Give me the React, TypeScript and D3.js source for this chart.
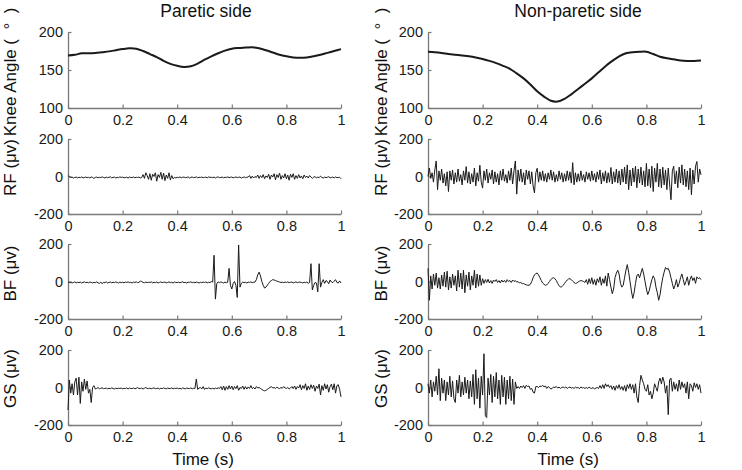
import React, { useRef, useEffect } from 'react';
import * as d3 from 'd3';

// titles / labels
const columnTitles = ['Paretic side', 'Non-paretic side'];
const rowLabels = ['Knee Angle (  °  )', 'RF (μv)', 'BF (μv)', 'GS (μv)'];
const xLabel = 'Time (s)';
const xTicks = [0, 0.2, 0.4, 0.6, 0.8, 1];
const xTickLabels = ['0', '0.2', '0.4', '0.6', '0.8', '1'];
const kneeTicks = [100, 150, 200];
const emgTicks = [-200, 0, 200];

// knee angle (deg), sampled every 0.025 s
const kneeParetic = [169, 170, 172, 172, 172.5, 173.5, 174.5, 176, 177.5, 178.5, 178, 175, 171, 167, 162, 158, 155.5, 154, 155, 158.5,
  163.5, 168, 172, 175.5, 178, 179, 179.5, 180, 178.5, 176, 173, 170, 168, 166.5, 166, 166.5, 168, 170, 172.5, 175, 177.5];
const kneeNonParetic = [174, 173.5, 172.5, 171, 170, 169, 168, 166.5, 164.5, 162, 159, 155.5, 151.5, 145.5, 139, 131, 122, 115, 109.5, 108.5,
  112, 118, 125, 132, 139, 147, 155, 162, 168, 172, 173.5, 174, 174, 171, 167.5, 165.5, 164, 162.5, 162, 162, 162.5];

// EMG (µV), sampled every 0.005 s
const rfParetic = [
  5, 0, -5, -3, -8, -5, -3, -7, -4, -6, -2, -8, -5, -3, -6, -4, -8, -2, -5, -10,
  -5, -3, -7, -4, -6, -2, -5, -8, -3, -6, -4, -2, -7, -5, -3, -8, -4, -6, -2, -5,
  -3, -7, -5, -4, -8, -3, -5, -6, -2, -7, -4, -5, -3, -8, -5, 10, -10, 20, 5, -15,
  15, -20, 12, 0, 20, -25, 10, -5, 22, -15, 18, -22, 8, -10, 20, -18, 5, -12, -5, -8,
  -4, -6, -2, -7, -4, -3, -6, -5, -2, -8, -4, -3, -6, -5, -2, -7, -4, -5, -3, -6,
  -5, -3, -7, -2, -5, -4, -6, -3, -8, -4, -2, -6, -5, -3, -7, -4, -5, -2, -6, -4,
  -3, -7, -5, -2, -6, -4, -3, -8, -5, -2, -6, -4, -3, 5, -10, 2, -8, 0, -5, 8,
  -10, 5, -6, 10, -12, 3, -5, 12, -15, 8, -3, 15, -18, 10, -5, 18, -15, 5, -8, 15,
  -12, 8, -20, 12, -5, 15, -15, 5, -10, 10, -8, 3, -12, 8, -5, 2, -8, 5, -3, -10,
  -4, 0, -8, -3, -6, 2, -5, -8, -3, -6, -4, -1, -7, -5, -3, -8, -2, -6, -5, -4,
  -12];
const rfNonParetic = [
  0, 45, -10, 20, -30, 35, 83, -70, 30, -20, 40, -35, 15, -50, 25, -80, 30, -20, 35, -40,
  20, -30, 40, -25, 10, -45, 30, -20, 53, -35, 25, -40, 15, -30, 45, -50, 20, -25, 60, -30,
  -62, 30, -20, 40, -35, 20, -15, 35, -40, 25, -30, 15, -45, 30, -20, 40, -25, 10, -35, 30,
  -20, 45, -40, 30, 83, -94, 35, -25, 40, -30, 20, -45, 35, -15, 30, -40, 25, -50, -88, 20,
  44, -30, 25, -20, 30, -25, 15, -30, 20, -15, 35, -20, 25, -30, 10, -25, 30, -15, 20, -30,
  15, -25, 30, -20, 25, -35, 74, -44, 20, -30, 15, -25, 30, -20, 10, -30, 25, -15, 20, -25,
  30, -20, 15, -30, 25, -15, 35, -40, 20, -25, 30, -35, 20, -30, 48, -40, 25, -30, 40, -35,
  30, -45, 40, -30, 50, -40, 62, -70, 35, -50, 45, -30, 55, -60, 40, -35, 50, -45, 30, -55,
  70, -50, 40, -60, 55, -80, 45, -30, 70, -55, 40, -60, 50, -45, 35, -70, 45, -40, -124, 30,
  55, -40, 30, -60, 50, -35, 62, -45, 40, -55, 30, -70, 45, -97, 35, -40, 55, 80, -30, 40,
  9];
const bfParetic = [
  -3, -6, -4, -8, -5, -2, -7, -4, -6, -3, -8, -5, -2, -6, -4, -7, -3, -5, -8, -4,
  -6, -2, -7, -10, -3, -12, -4, -6, -2, -8, -5, -3, -7, -4, -6, -2, -5, -8, -3, -6,
  -4, -7, -3, -5, -2, -6, -4, -8, -3, -5, -2, -6, -4, 2, 0, -5, -7, -3, -6, -4,
  -5, -2, -7, -4, -6, -3, -8, -5, -2, -6, -4, -3, -7, -5, -2, -6, -4, -8, -3, -5,
  -6, -3, -7, -4, -2, -6, -5, -8, -3, -5, -2, -6, -4, -7, -3, -5, -8, -4, -6, -3,
  -5, -2, -7, -4, -6, 0, -3, 140, -94, -10, -3, -6, -2, -5, -8, -3, -6, -4, 70, -20,
  -40, -10, 0, -20, -85, 195, -30, -10, -3, -6, -4, -8, -3, -5, -2, -6, -4, -3, 10, 35,
  50, 30, 0, -20, -35, -30, -20, -10, 0, 5, 10, 8, 5, 2, 0, -3, -5, -4, -6, -3,
  -5, -2, -6, -4, -3, -7, -5, -2, -6, -4, -3, -5, -8, -4, -6, -3, -10, -5, 95, -45,
  -20, -5, -8, -55, 95, -30, -5, 10, -10, 5, 0, -12, 8, -3, -6, 2, 10, -5, -8, 3,
  -8];
const bfNonParetic = [
  70, -100, 30, -40, 40, -20, 45, -35, 20, -40, 35, -25, 50, -30, 55, -45, 25, -35, 40, -20,
  30, -50, 60, -30, 45, -40, 60, -60, 35, -25, 50, -45, 30, -20, 60, -35, 40, -25, 35, -20,
  15, -10, 10, -5, 12, -8, 5, -10, 8, 0, 10, -5, 5, -8, 8, -3, 6, -5, 10, 0,
  5, -5, 8, 0, 5, -3, 0, -8, -5, -12, -10, -15, -18, -20, -20, -15, 0, 20, 35, 43,
  45, 35, 20, 5, -8, -15, -20, -18, -10, 0, 10, 18, 20, 15, 5, -10, -22, -30, -28, -20,
  -10, 0, 8, 14, 15, 10, 2, -5, -10, -8, -2, 2, 5, 3, 0, -5, 10, -15, 15, -10,
  20, -15, 10, -20, 15, -5, 25, -20, 15, -10, 30, -25, 45, 10, -30, -65, -40, 20, 45, 60,
  40, -10, -30, -20, 20, 60, 90, 50, 0, -50, -90, -60, -10, 30, 40, 20, 45, 70, 40, 0,
  -40, -70, -50, -20, 10, 30, 15, -30, -60, -100, -70, -20, 20, 50, 75, 65, 70, 50, 20, -10,
  -40, -20, 10, -30, -10, 20, 40, 10, -20, 0, 25, -20, 10, 30, 5, 20, -10, 25, 15, 20,
  10];
const gsParetic = [
  -120, 40, -30, 20, -40, 30, 50, -40, 55, -85, 30, -20, 45, -10, 35, -30, -10, -80, 0, 10,
  -8, -5, 0, -7, -4, -2, -6, -5, -3, -7, -4, -6, -2, -5, -8, -3, -6, -4, -5, -3,
  -7, -4, -6, -2, -8, -3, -5, -6, -2, -7, -4, 0, -6, -5, -3, -8, -4, 0, -5, -6,
  -3, -7, -4, -2, -6, -5, -3, -8, -4, -6, -2, -5, -7, -3, -5, -6, -2, -7, -4, -5,
  -3, -6, -4, -8, -2, -5, -7, -3, -5, -6, -2, -7, -4, -5, 45, -10, -3, 0, -8, 5,
  -10, -3, -6, -2, -5, -7, -4, -8, -3, -6, -2, -5, 5, -12, 8, -15, 5, -10, 10, -8,
  8, -12, 5, -6, 10, -15, 0, -5, 8, -10, 5, -8, 3, -5, 10, -6, 0, -8, 5, -3,
  0, -5, -10, -15, -18, -15, -10, -5, 0, 5, -3, 0, -5, 2, -3, -6, 0, -4, 5, -2,
  -5, 0, -7, -3, 5, -6, 8, -10, 5, -3, 15, -12, 10, -5, 20, -15, 8, -10, 15, -5,
  12, -20, 8, -5, 18, -40, 10, -15, 20, -8, 15, -25, 5, 18, -12, 20, -30, 10, 15, -10,
  -50];
const gsNonParetic = [
  20, -30, 40, -50, 30, -20, 60, -40, 100, -70, 50, -30, 40, -70, 30, -40, 60, -50, 35, -60,
  -80, 40, -30, 65, -50, 30, -40, 55, -30, 40, -60, 35, -50, 70, -90, 95, -60, 50, -110, 60,
  -40, 180, -150, -160, 50, -40, 70, -80, 60, -50, 80, -60, 40, -90, 65, -50, 55, -90, 40, -60,
  60, -70, 45, -90, 30, -5, 5, -5, 8, 0, 10, -5, 12, 5, 8, -10, -5, -25, -30, 5,
  5, 0, 8, 5, 12, 3, 8, -5, 5, 0, -8, -5, 3, 0, 5, -3, 2, -5, 0, 3,
  -2, 3, -5, 0, 2, -3, 0, -5, 2, -2, 0, -6, 3, -3, 0, -5, 0, -5, 2, -3,
  -5, 0, -8, -3, 0, -5, 10, -5, 15, -5, 20, 5, 15, 0, 10, -10, 8, -15, 10, -5,
  15, -10, 5, -15, 10, -20, 15, -5, 20, -10, 15, -30, 20, -50, -80, 10, 65, 40, 20, -10,
  -20, 15, -40, -20, -60, -30, 20, 0, -20, 30, 50, 20, 55, 30, -30, 10, -145, 40, 50, -20,
  30, -10, 20, -20, 40, -10, 30, 0, 20, -30, 30, -60, 20, 10, -20, 25, 0, 20, -10, 15,
  -30];

const columns = [
  [kneeParetic, rfParetic, bfParetic, gsParetic],
  [kneeNonParetic, rfNonParetic, bfNonParetic, gsNonParetic],
];

export default function App() {
  const ref = useRef(null);
  const width = 742;
  const height = 470;

  useEffect(() => {
    const svg = d3.select(ref.current);
    svg.selectAll('*').remove();

    const font = 'Liberation Sans, Arial, Helvetica, sans-serif';
    const colX = [[68, 341], [428, 701]];
    const rowY = [[32, 108], [139, 214], [244, 319], [350, 425]];
    const titleX = [206, 578];
    const ylabX = [16, 387];
    const ylabShift = [2, -9, -8, -9];
    const axisGray = '#7a7a7a';

    columns.forEach((series, c) => {
      const x = d3.scaleLinear().domain([0, 1]).range(colX[c]);

      // column title
      svg.append('text')
        .attr('x', titleX[c]).attr('y', 17)
        .attr('text-anchor', 'middle')
        .attr('font-family', font).attr('font-size', 17.5)
        .attr('fill', '#111')
        .text(columnTitles[c]);

      series.forEach((vals, r) => {
        const isKnee = r === 0;
        const y = d3.scaleLinear()
          .domain(isKnee ? [100, 200] : [-200, 200])
          .range([rowY[r][1], rowY[r][0]]);

        const g = svg.append('g');

        // x axis, ticks pointing inward
        const gx = g.append('g')
          .attr('transform', `translate(0,${rowY[r][1]})`)
          .call(d3.axisBottom(x)
            .tickValues(xTicks)
            .tickFormat((d, i) => xTickLabels[i])
            .tickSizeInner(-3.5).tickSizeOuter(0).tickPadding(7));

        // y axis
        const gy = g.append('g')
          .attr('transform', `translate(${colX[c][0]},0)`)
          .call(d3.axisLeft(y)
            .tickValues(isKnee ? kneeTicks : emgTicks)
            .tickFormat(d => String(d))
            .tickSizeInner(-3.5).tickSizeOuter(0).tickPadding(5));

        [gx, gy].forEach(a => {
          a.select('.domain').attr('stroke', axisGray).attr('stroke-width', 1.3);
          a.selectAll('.tick line').attr('stroke', axisGray).attr('stroke-width', 1.2);
          a.selectAll('.tick text')
            .attr('font-family', font).attr('font-size', 14.5).attr('fill', '#1a1a1a');
        });

        // signal
        const line = d3.line<number>()
          .x((d, i) => x(i / (vals.length - 1)))
          .y(d => y(d));
        if (isKnee) line.curve(d3.curveCatmullRom);

        g.append('path')
          .datum(vals)
          .attr('fill', 'none')
          .attr('stroke', '#1a1a1a')
          .attr('stroke-width', isKnee ? 2 : 1)
          .attr('stroke-linejoin', 'round')
          .attr('d', line);

        // y label
        const cy = (rowY[r][0] + rowY[r][1]) / 2 + ylabShift[r];
        svg.append('text')
          .attr('transform', `translate(${ylabX[c]},${cy}) rotate(-90)`)
          .attr('text-anchor', 'middle')
          .attr('font-family', font).attr('font-size', 17)
          .attr('fill', '#111')
          .style('white-space', 'pre')
          .text(rowLabels[r]);
      });

      // x label
      svg.append('text')
        .attr('x', c === 0 ? 203 : 568).attr('y', 465)
        .attr('text-anchor', 'middle')
        .attr('font-family', font).attr('font-size', 17)
        .attr('fill', '#111')
        .text(xLabel);
    });
  }, []);

  return (
    <svg ref={ref} width={width} height={height}
      style={{ position: 'absolute', left: 0, top: 0, background: '#fff', display: 'block' }} />
  );
}
